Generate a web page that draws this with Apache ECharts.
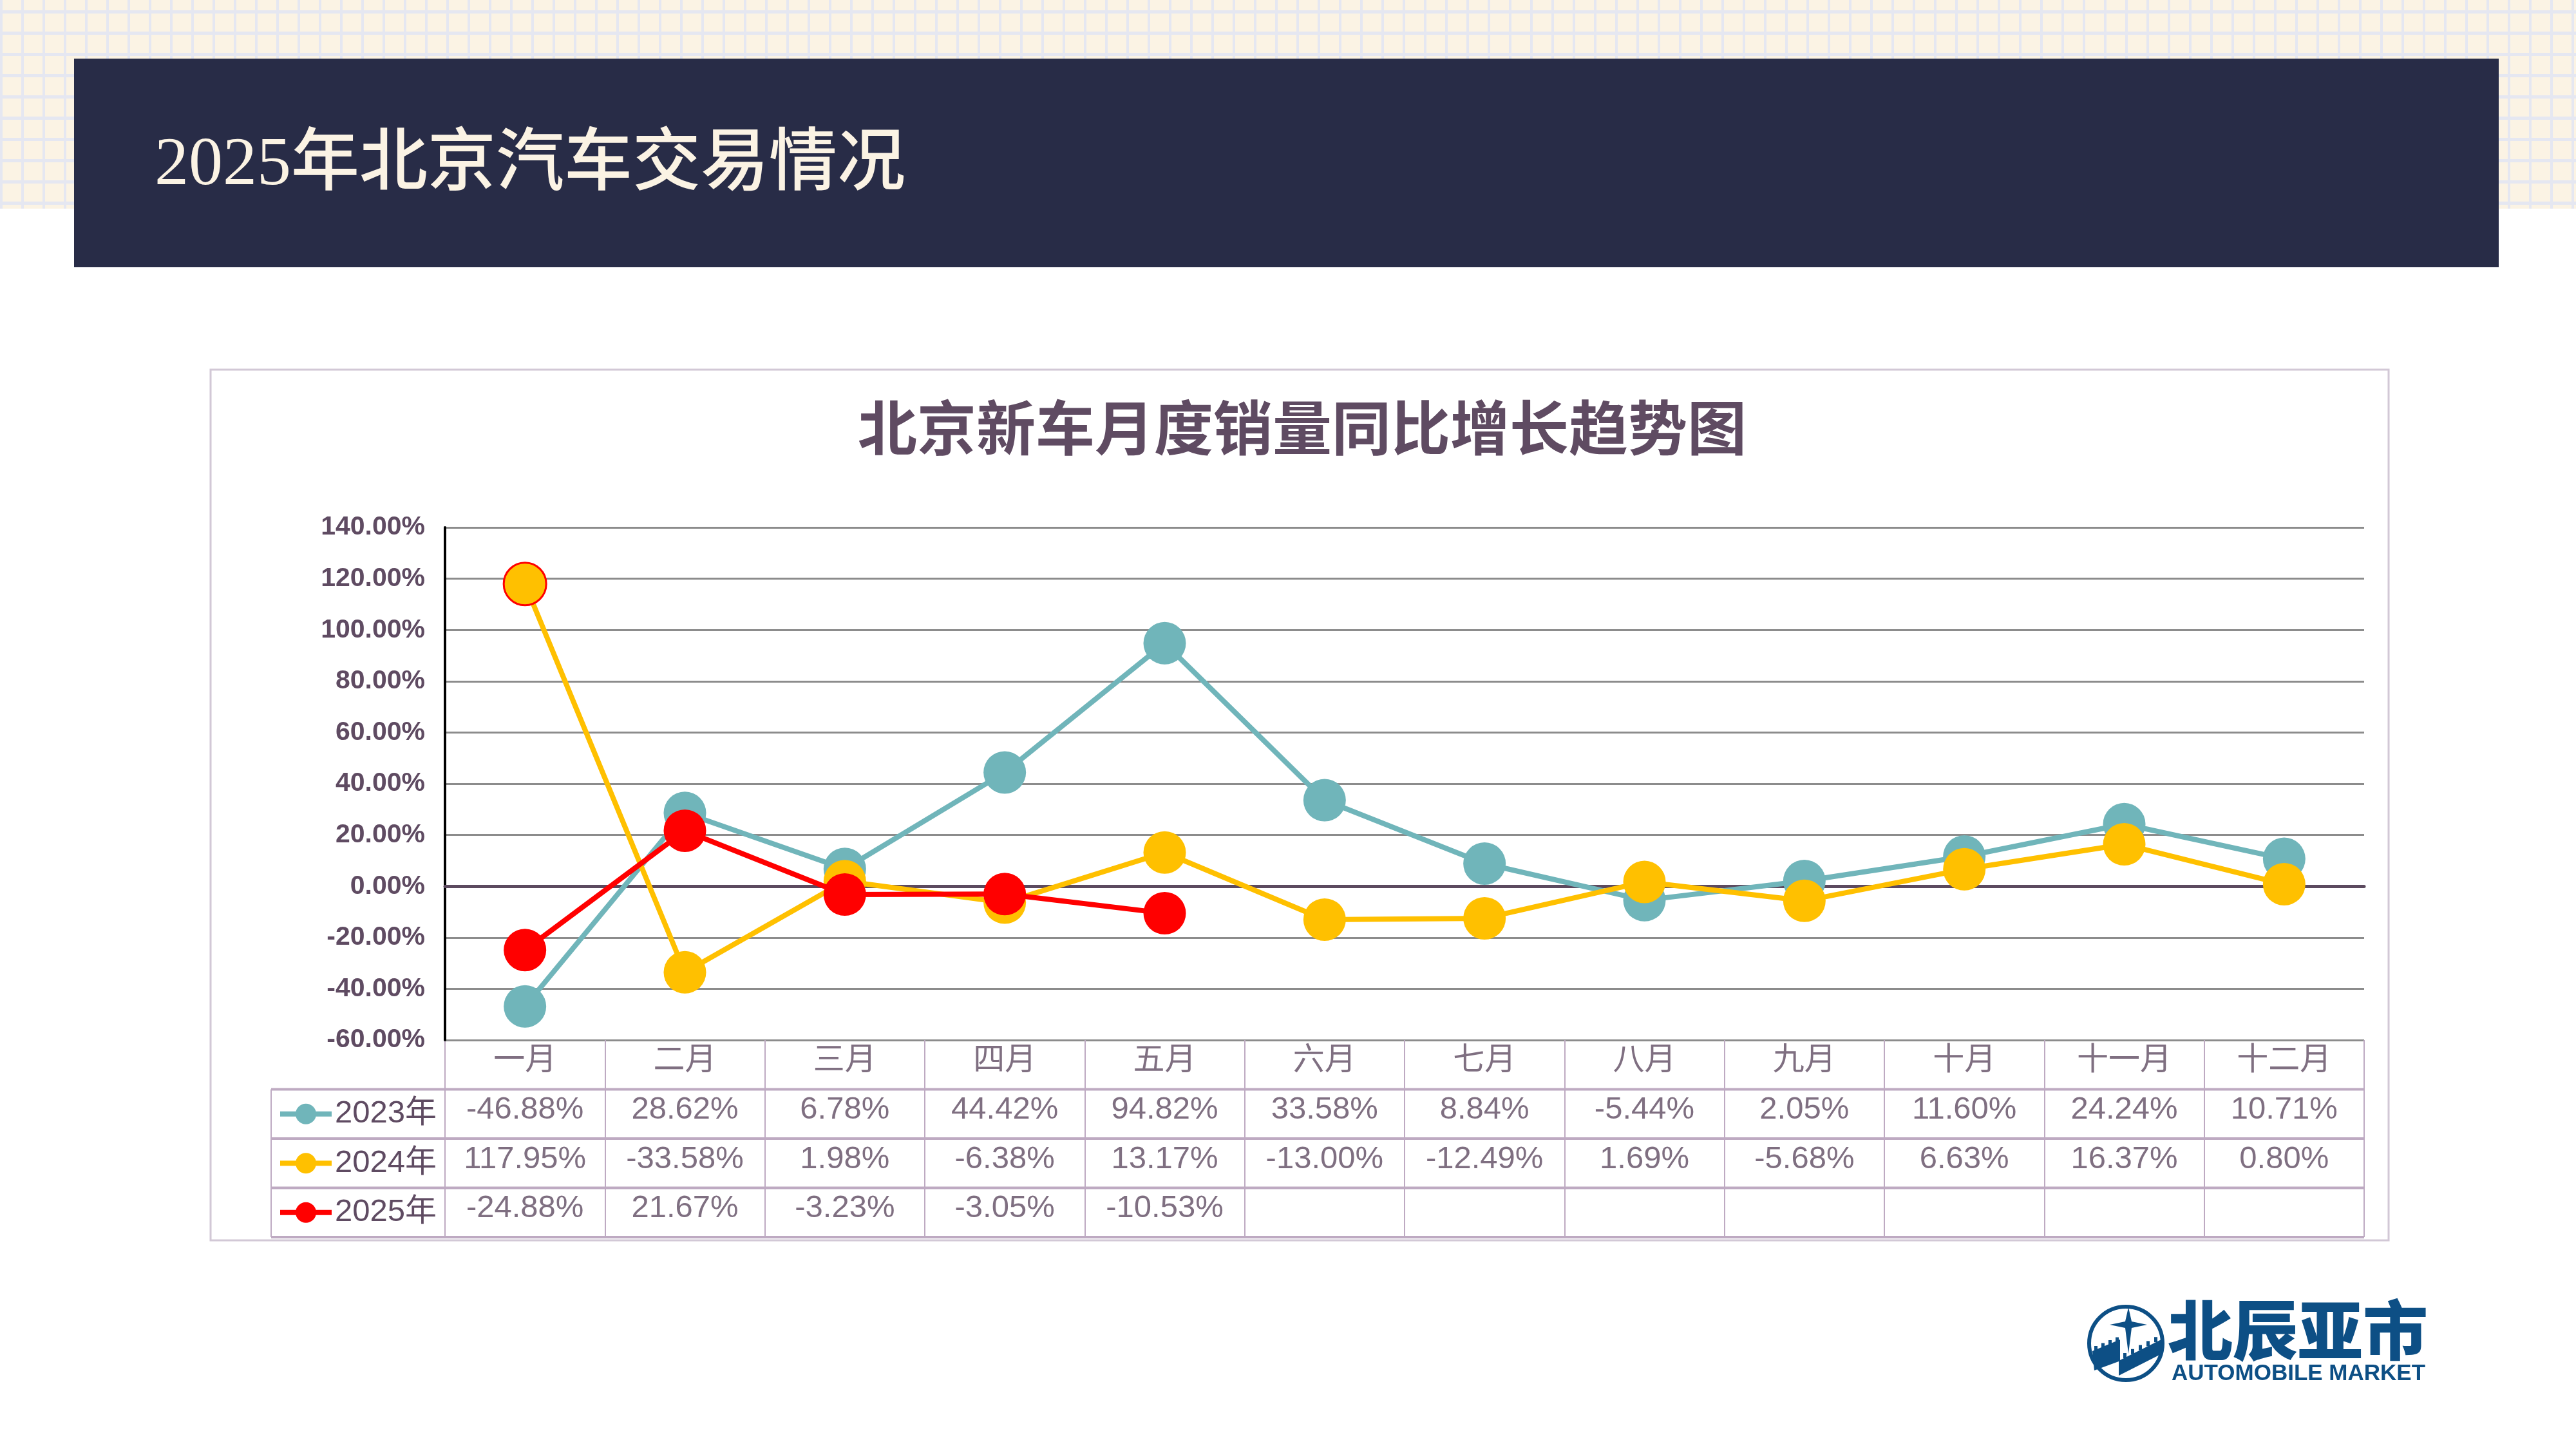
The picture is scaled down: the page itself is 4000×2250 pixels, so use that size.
<!DOCTYPE html>
<html>
<head>
<meta charset="utf-8">
<script src="https://cdn.jsdelivr.net/npm/echarts@6/dist/echarts.min.js"></script>
<style>
html,body{margin:0;padding:0;background:#ffffff;}
#bg{position:absolute;left:0;top:0;width:4000px;height:324px;background-color:#FBF3E4;
background-image:linear-gradient(to right,#E5E7F1 0,#E5E7F1 4px,transparent 4px),linear-gradient(to bottom,#E5E7F1 0,#E5E7F1 5px,transparent 5px);
background-size:33px 33px;background-position:0 16px;}
#chart{position:absolute;left:0;top:0;width:4000px;height:2250px;}
</style>
</head>
<body>
<div id="bg"></div>
<div id="chart"></div>
<script>
// ---------------- data ----------------
const months = ['一月','二月','三月','四月','五月','六月','七月','八月','九月','十月','十一月','十二月'];
const seriesNames = ['2023年','2024年','2025年'];
const growth2023 = [-46.88, 28.62, 6.78, 44.42, 94.82, 33.58, 8.84, -5.44, 2.05, 11.60, 24.24, 10.71];
const growth2024 = [117.95, -33.58, 1.98, -6.38, 13.17, -13.00, -12.49, 1.69, -5.68, 6.63, 16.37, 0.80];
const growth2025 = [-24.88, 21.67, -3.23, -3.05, -10.53];
const yMin = -60, yMax = 140, yStep = 20;
const pageTitle = '2025年北京汽车交易情况';
const chartTitle = '北京新车月度销量同比增长趋势图';
const logoCn = '北辰亚市';
const logoEn = 'AUTOMOBILE MARKET';

// ---------------- style ----------------
const seriesColors = ['#70B5BA', '#FFC000', '#FF0000'];
const TXT = '#5F4B62';
const FONT = '"Liberation Sans", Arial, "Noto Sans CJK SC", sans-serif';
const CJK = '"Noto Sans CJK SC", sans-serif';
const TABLE_LINE = '#BEAAC2';
const PLOT = {left: 691, top: 819, width: 2980, height: 796};
const TABLE = {left: 691, top: 1615, width: 2980, height: 306};
const LEG_LEFT = 421;
const ROW_H = TABLE.height / 4;
const LOGO = '#0D4F85';
const CELL_FS = 49;

const fmt = v => v.toFixed(2) + '%';
const allSeries = [growth2023, growth2024, growth2025];

// table cells (month row + one row per year)
const tableCells = [];
months.forEach((m, i) => tableCells.push([i, 0.5, m]));
allSeries.forEach((arr, r) => arr.forEach((v, i) => tableCells.push([i, r + 1.5, fmt(v)])));

const lineSeries = allSeries.map((arr, k) => ({
  name: seriesNames[k],
  type: 'line',
  xAxisIndex: 0, yAxisIndex: 0,
  data: arr.map((v, i) => (k === 1 && i === 0)
      ? {value: v, itemStyle: {borderColor: '#FF0000', borderWidth: 3}}
      : v),
  symbol: 'circle',
  symbolSize: 66,
  lineStyle: {width: 8, color: seriesColors[k]},
  itemStyle: {color: seriesColors[k]},
  emphasis: {disabled: true},
  z: 3 + k
}));

// graphics: banner, panel, table borders, logo
const graphics = [];
graphics.push({type: 'rect', z: -10, shape: {x: 115, y: 91, width: 3765, height: 324}, style: {fill: '#282C47'}});
graphics.push({type: 'text', z: 10, style: {text: pageTitle, x: 240, y: 258, fill: '#FBF3E4',
  fontSize: 106, fontWeight: 500, fontFamily: '"Liberation Serif", "Noto Sans CJK SC", serif', textVerticalAlign: 'middle', textAlign: 'left'}});
graphics.push({type: 'rect', z: -10, shape: {x: 327, y: 574, width: 3382, height: 1352}, style: {fill: '#FFFFFF', stroke: '#D2C8D6', lineWidth: 3}});
const tRight = TABLE.left + TABLE.width;
for (let r = 1; r <= 4; r++) {
  const y = TABLE.top + r * ROW_H;
  graphics.push({type: 'line', z: 5, shape: {x1: LEG_LEFT, y1: y, x2: tRight, y2: y}, style: {stroke: TABLE_LINE, lineWidth: 4}});
}
graphics.push({type: 'line', z: 5, shape: {x1: LEG_LEFT, y1: TABLE.top + ROW_H, x2: LEG_LEFT, y2: TABLE.top + TABLE.height}, style: {stroke: TABLE_LINE, lineWidth: 2}});

// logo
graphics.push({type: 'circle', z: 10, shape: {cx: 3301, cy: 2086, r: 57}, style: {fill: 'none', stroke: LOGO, lineWidth: 6}});
graphics.push({type: 'polygon', z: 10, shape: {points: [[3305,2030],[3310,2052],[3334,2057],[3310,2062],[3305,2102],[3300,2062],[3276,2057],[3300,2052]]}, style: {fill: LOGO}});
graphics.push({type: 'polygon', z: 10, shape: {points: [[3249,2098],[3292,2080],[3292,2112],[3356,2080],[3357,2102],[3290,2136],[3290,2114],[3252,2128]]}, style: {fill: LOGO}});
for (let j = 0; j < 4; j++) {
  const x = 3252 + j * 11, y = 2097 - j * 4.5;
  graphics.push({type: 'rect', z: 10, shape: {x: x, y: y - 7, width: 5, height: 8}, style: {fill: LOGO}});
}
for (let j = 0; j < 5; j++) {
  const x = 3297 + j * 12, y = 2108 - j * 6.2;
  graphics.push({type: 'rect', z: 10, shape: {x: x, y: y - 7, width: 5, height: 8}, style: {fill: LOGO}});
}
graphics.push({type: 'text', z: 10, style: {text: logoCn, x: 3366, y: 2066, fill: LOGO, fontSize: 101, fontWeight: 900,
  fontFamily: CJK, textVerticalAlign: 'middle', textAlign: 'left'}});
graphics.push({type: 'text', z: 10, style: {text: logoEn, x: 3372, y: 2133, fill: LOGO, fontSize: 35, fontWeight: 'bold',
  fontFamily: FONT, textVerticalAlign: 'middle', textAlign: 'left'}});

const option = {
  animation: false,
  backgroundColor: 'transparent',
  title: {
    text: chartTitle, left: 1332, top: 618, padding: 0,
    textStyle: {fontSize: 92, fontWeight: 'bold', color: TXT, fontFamily: CJK}
  },
  legend: {
    data: seriesNames, orient: 'vertical', left: LEG_LEFT + 10, top: TABLE.top + ROW_H * 1.5 - 25,
    padding: 0, itemGap: ROW_H - 50, itemWidth: 80, itemHeight: 40, selectedMode: false,
    lineStyle: {width: 8},
    textStyle: {fontSize: CELL_FS, lineHeight: 50, color: TXT, fontFamily: FONT, padding: [0, 0, 0, 0]}
  },
  grid: [
    {left: PLOT.left, top: PLOT.top, width: PLOT.width, height: PLOT.height, containLabel: false},
    {left: TABLE.left, top: TABLE.top, width: TABLE.width, height: TABLE.height, containLabel: false}
  ],
  xAxis: [
    {type: 'category', gridIndex: 0, data: months, boundaryGap: true,
     axisLine: {onZero: true, lineStyle: {color: '#5C4A5F', width: 5}},
     axisTick: {show: false}, axisLabel: {show: false}, splitLine: {show: false}, z: 2},
    {type: 'category', gridIndex: 1, data: months, boundaryGap: true,
     axisLine: {show: false}, axisTick: {show: false}, axisLabel: {show: false},
     splitLine: {show: true, lineStyle: {color: TABLE_LINE, width: 2}}}
  ],
  yAxis: [
    {type: 'value', gridIndex: 0, min: yMin, max: yMax, interval: yStep,
     axisLine: {show: true, lineStyle: {color: '#000000', width: 4}},
     axisTick: {show: false},
     axisLabel: {formatter: v => fmt(v), fontSize: 41, fontWeight: 'bold', color: TXT, fontFamily: FONT, margin: 31},
     splitLine: {show: true, lineStyle: {color: '#8C8C8C', width: 3}}},
    {type: 'value', gridIndex: 1, min: 0, max: 4, interval: 1, inverse: true,
     axisLine: {show: false}, axisTick: {show: false}, axisLabel: {show: false}, splitLine: {show: false}}
  ],
  series: lineSeries.concat([{
    name: 'table', type: 'scatter', xAxisIndex: 1, yAxisIndex: 1, silent: true,
    data: tableCells, symbolSize: 1, itemStyle: {color: 'transparent'},
    label: {show: true, position: 'inside', formatter: p => p.value[2], offset: [0, -6],
            fontSize: CELL_FS, color: TXT, fontFamily: FONT},
    z: 6
  }]),
  graphic: {elements: graphics}
};

const chart = echarts.init(document.getElementById('chart'), null, {renderer: 'canvas', width: 4000, height: 2250});
chart.setOption(option);
</script>
</body>
</html>
